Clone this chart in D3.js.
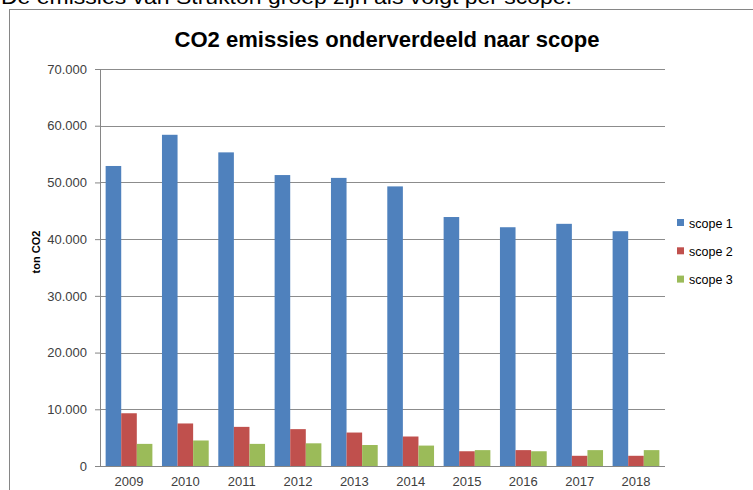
<!DOCTYPE html>
<html><head><meta charset="utf-8">
<script src="https://cdn.jsdelivr.net/npm/d3@7"></script>
<style>body{margin:0;background:#fff}svg{display:block}</style>
</head><body>
<script>
const years = ["2009","2010","2011","2012","2013","2014","2015","2016","2017","2018"];
const seriesNames = ["scope 1","scope 2","scope 3"];
const scope1 = [52900,58400,55300,51300,50800,49300,43900,42100,42700,41400];
const scope2 = [9300,7500,6900,6500,5900,5200,2600,2800,1800,1800];
const scope3 = [3900,4500,3900,4000,3700,3600,2800,2600,2800,2800];
const yTicks = [0,10000,20000,30000,40000,50000,60000,70000];
const colors = ["#4F81BD","#C0504D","#9BBB59"];

const W = 753, H = 490;
const svg = d3.select("body").append("svg").attr("width",W).attr("height",H);

// cut-off sentence at top
svg.append("text").attr("x",1).attr("y",4)
  .attr("font-family","Liberation Sans, Arial, sans-serif").attr("font-size",21)
  .attr("textLength",571).attr("lengthAdjust","spacingAndGlyphs")
  .attr("fill","#000").text("De emissies van Strukton groep zijn als volgt per scope.");

// chart border
svg.append("rect").attr("x",9.5).attr("y",9.5).attr("width",800).attr("height",600)
  .attr("fill","none").attr("stroke","#868686").attr("stroke-width",1);

const plot = {left:100, right:665, top:69, bottom:466};
const x = d3.scaleBand().domain(years).range([plot.left, plot.right]).paddingInner(0.17).paddingOuter(0.1);
const xs = d3.scaleBand().domain(seriesNames).range([0, x.bandwidth()]);
const y = d3.scaleLinear().domain([0,70000]).range([plot.bottom, plot.top]);

const fmt = v => v === 0 ? "0" : d3.format(",")(v).replace(/,/g,".");

// gridlines
svg.append("g").selectAll("line").data(yTicks.filter(t=>t>0)).join("line")
  .attr("x1",plot.left).attr("x2",plot.right)
  .attr("y1",d=>Math.round(y(d))+0.5).attr("y2",d=>Math.round(y(d))+0.5)
  .attr("stroke","#8c8c8c").attr("stroke-width",1);

// bars
const data = [scope1, scope2, scope3];
const g = svg.append("g");
years.forEach((yr,i)=>{
  seriesNames.forEach((s,j)=>{
    g.append("rect").attr("x",x(yr)+xs(s)).attr("width",xs.bandwidth())
      .attr("y",y(data[j][i])).attr("height",plot.bottom - y(data[j][i]))
      .attr("fill",colors[j]);
  });
});

// axes
const yAxis = svg.append("g").attr("transform",`translate(${plot.left},0)`)
  .call(d3.axisLeft(y).tickValues(yTicks).tickFormat(fmt).tickSize(5).tickPadding(8));
yAxis.select(".domain").attr("stroke","#868686");
yAxis.selectAll(".tick line").attr("stroke","#868686");
yAxis.selectAll("text").attr("font-family","Liberation Sans, Arial, sans-serif").attr("font-size",13).attr("fill","#404040");

const xAxis = svg.append("g").attr("transform",`translate(0,${plot.bottom})`)
  .call(d3.axisBottom(x).tickSize(0).tickPadding(11));
xAxis.select(".domain").attr("stroke","#868686").attr("d",`M${plot.left},0.5H${plot.right}`);
xAxis.selectAll("text").attr("font-family","Liberation Sans, Arial, sans-serif").attr("font-size",13).attr("fill","#404040");

// title
svg.append("text").attr("x",387).attr("y",47).attr("text-anchor","middle")
  .attr("font-family","Liberation Sans, Arial, sans-serif").attr("font-weight","bold").attr("font-size",22)
  .attr("textLength",425).attr("lengthAdjust","spacingAndGlyphs")
  .text("CO2 emissies onderverdeeld naar scope");

// y label
svg.append("text").attr("transform","translate(40,252) rotate(-90)").attr("text-anchor","middle")
  .attr("font-family","Liberation Sans, Arial, sans-serif").attr("font-weight","bold").attr("font-size",11)
  .text("ton CO2");

// legend
const leg = svg.append("g");
seriesNames.forEach((s,j)=>{
  const ly = 223 + j*28.3;
  leg.append("rect").attr("x",677).attr("y",ly-4).attr("width",7).attr("height",7).attr("fill",colors[j]);
  leg.append("text").attr("x",689).attr("y",ly+4.5).attr("font-family","Liberation Sans, Arial, sans-serif")
    .attr("font-size",12.5).attr("fill","#000").text(s);
});
</script>
</body></html>
